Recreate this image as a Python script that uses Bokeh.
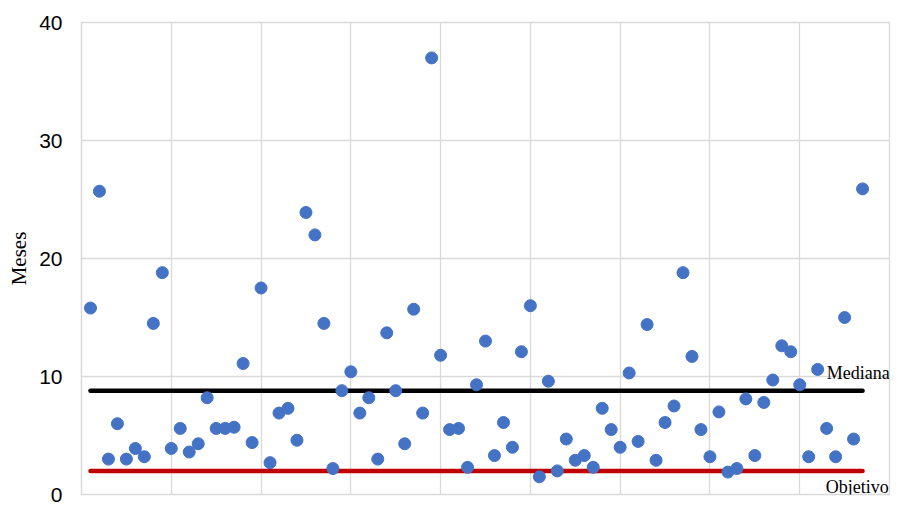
from bokeh.plotting import figure
from bokeh.models import Range1d, FixedTicker, Label, ColumnDataSource
from bokeh.embed import file_html
from bokeh.resources import INLINE

# Data
meses = [15.8, 25.7, 3.0, 6.0, 3.0, 3.9, 3.2, 14.5, 18.8, 3.9,
         5.6, 3.6, 4.3, 8.2, 5.6, 5.6, 5.7, 11.1, 4.4, 17.5,
         2.7, 6.9, 7.3, 4.6, 23.9, 22.0, 14.5, 2.2, 8.8, 10.4,
         6.9, 8.2, 3.0, 13.7, 8.8, 4.3, 15.7, 6.9, 37.0, 11.8,
         5.5, 5.6, 2.3, 9.3, 13.0, 3.3, 6.1, 4.0, 12.1, 16.0,
         1.5, 9.6, 2.0, 4.7, 2.9, 3.3, 2.3, 7.3, 5.5, 4.0,
         10.3, 4.5, 14.4, 2.9, 6.1, 7.5, 18.8, 11.7, 5.5, 3.2,
         7.0, 1.9, 2.2, 8.1, 3.3, 7.8, 9.7, 12.6, 12.1, 9.3,
         3.2, 10.6, 5.6, 3.2, 15.0, 4.7, 25.9]
casos = list(range(1, len(meses) + 1))
mediana = 8.8
objetivo = 2.0
y_ticks = [0, 10, 20, 30, 40]
x_grid = [0, 10, 20, 30, 40, 50, 60, 70, 80, 90]

p = figure(width=892, height=508, output_backend="svg", toolbar_location=None,
           x_range=Range1d(0, 90), y_range=Range1d(0, 40),
           x_axis_location=None,
           min_border_left=81, min_border_right=3, min_border_top=22, min_border_bottom=14)
p.outline_line_color = "#D9D9D9"
p.outline_line_width = 1.3
p.background_fill_color = "white"
p.border_fill_color = "white"

p.xgrid.ticker = FixedTicker(ticks=x_grid)
p.ygrid.ticker = FixedTicker(ticks=y_ticks)
for g in (p.xgrid, p.ygrid):
    g.grid_line_color = "#D9D9D9"
    g.grid_line_width = 1.3

ax = p.yaxis[0]
ax.ticker = FixedTicker(ticks=y_ticks)
ax.axis_line_color = "#D9D9D9"
ax.axis_line_width = 1.3
ax.major_tick_line_color = None
ax.minor_tick_line_color = None
ax.major_tick_out = 0
ax.major_tick_in = 0
ax.minor_tick_out = 0
ax.major_label_text_font = "Liberation Sans"
ax.major_label_text_font_size = "21px"
ax.major_label_text_color = "black"
ax.major_label_standoff = 19
ax.axis_label = "Meses"
ax.axis_label_text_font = "Liberation Serif"
ax.axis_label_text_font_style = "normal"
ax.axis_label_text_font_size = "21px"
ax.axis_label_text_color = "black"
ax.axis_label_standoff = 5

# Reference lines
p.line([casos[0], casos[-1]], [mediana, mediana], line_color="black", line_width=4.5, line_cap="round")
p.line([casos[0], casos[-1]], [objetivo, objetivo], line_color="#C00000", line_width=4.5, line_cap="round")

src = ColumnDataSource(dict(x=casos, y=meses))
p.scatter("x", "y", source=src, size=12, fill_color="#4472C4", line_color="#4472C4")

p.add_layout(Label(x=83.0, y=mediana, y_offset=18, text="Mediana", text_baseline="middle",
                   text_font="Liberation Serif", text_font_size="18px", text_color="black"))
p.add_layout(Label(x=82.9, y=objetivo, y_offset=-16, text="Objetivo", text_baseline="middle",
                   text_font="Liberation Serif", text_font_size="18px", text_color="black"))

open("out.html", "w").write(file_html(p, INLINE))
